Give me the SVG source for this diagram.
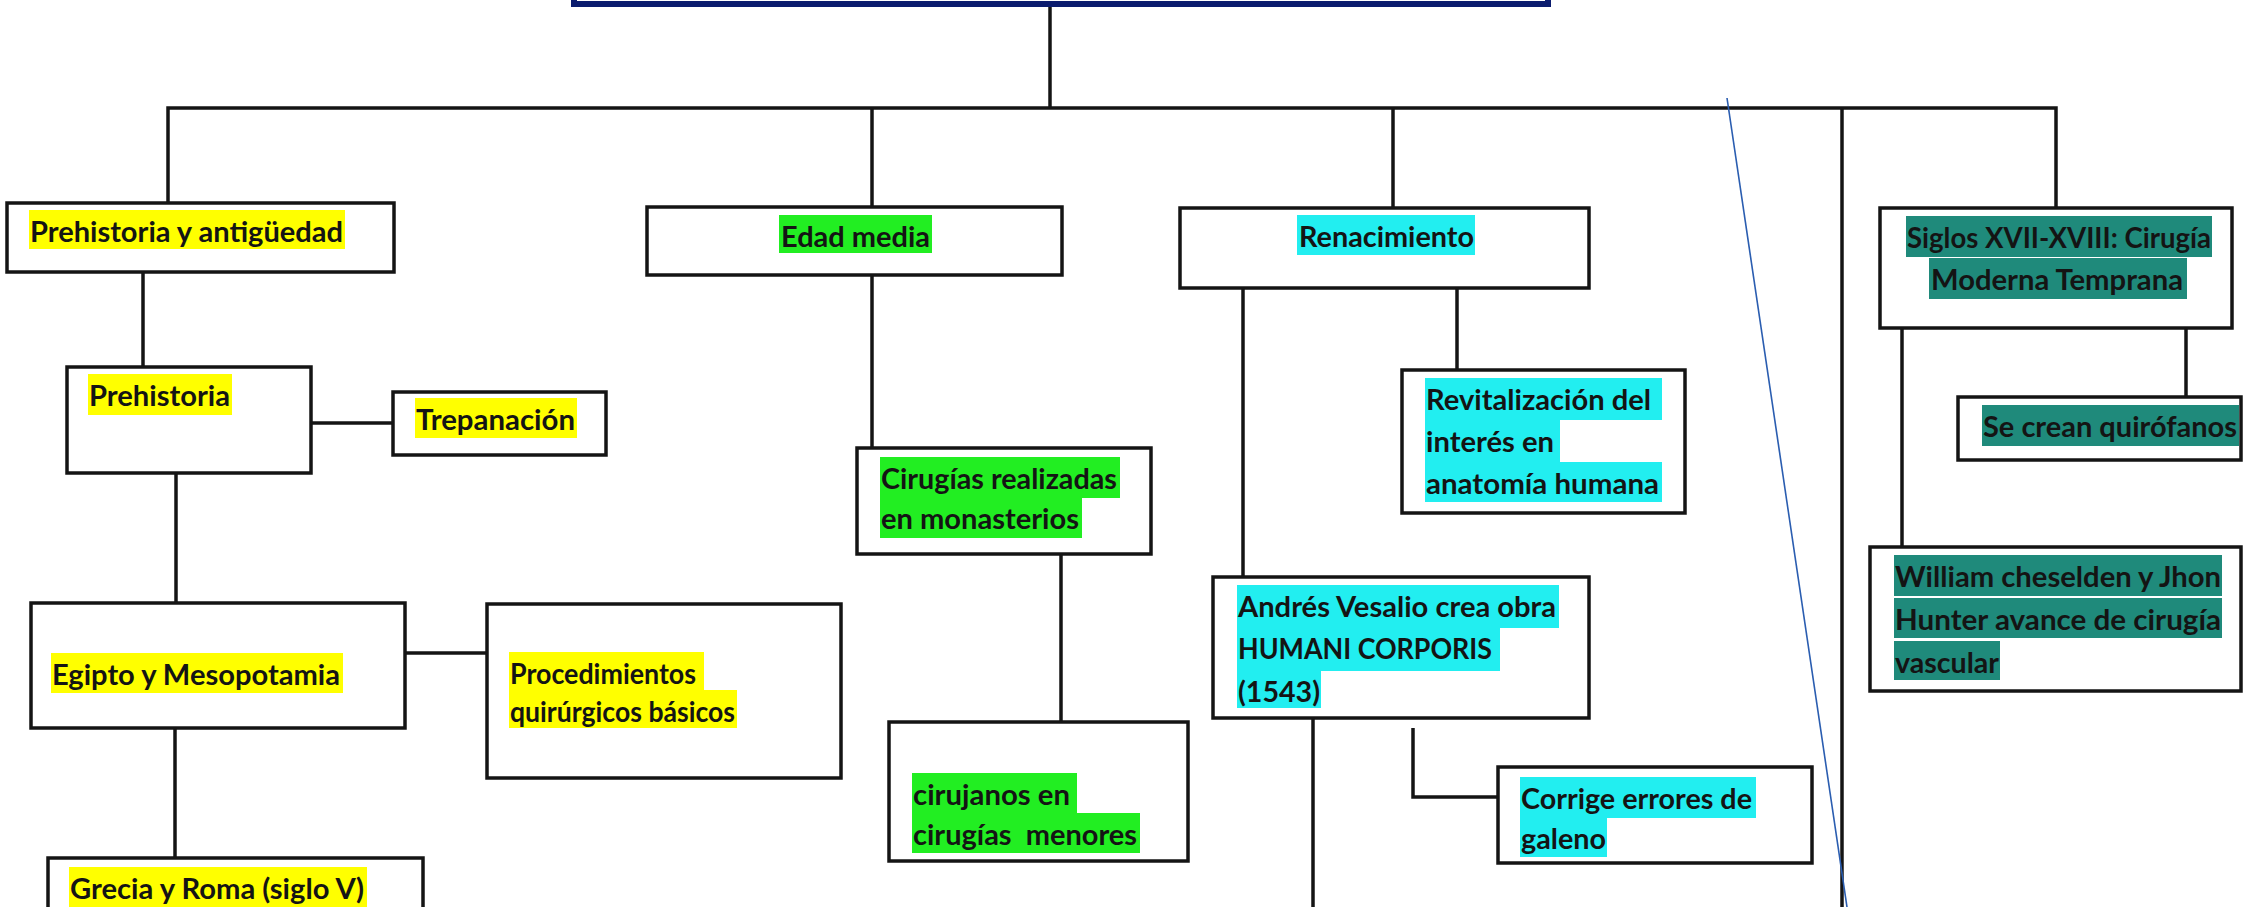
<svg xmlns="http://www.w3.org/2000/svg" width="2246" height="907" viewBox="0 0 2246 907">
<style>
.bg{fill:#ffffff}
.b{fill:#ffffff;stroke:#141414;stroke-width:3.5}
.top{fill:#ffffff;stroke:#0b1c6e;stroke-width:6}
.c{fill:none;stroke:#141414;stroke-width:3.5}
.blue{fill:none;stroke:#2a5db0;stroke-width:1.6}
.t{font-family:Lato,"Open Sans","Liberation Sans",sans-serif;font-weight:700;font-size:29px;fill:#141414}
.hy{fill:#ffff00}
.hg{fill:#22ee22}
.hc{fill:#22eef0}
.ht{fill:#1f8a7b}
</style>
<rect class="bg" x="0" y="0" width="2246" height="907"/>
<g id="connectors">
<polyline class="c" points="1050,6 1050,108"/>
<polyline class="c" points="168,203 168,108 2056,108 2056,208"/>
<polyline class="c" points="872,108 872,207"/>
<polyline class="c" points="1393,108 1393,208"/>
<polyline class="c" points="1842,108 1842,907"/>
<polyline class="c" points="143,272 143,367"/>
<polyline class="c" points="311,423 393,423"/>
<polyline class="c" points="176,473 176,603"/>
<polyline class="c" points="405,653 487,653"/>
<polyline class="c" points="175,728 175,858"/>
<polyline class="c" points="872,275 872,448"/>
<polyline class="c" points="1061,554 1061,722"/>
<polyline class="c" points="1243,288 1243,577"/>
<polyline class="c" points="1457,288 1457,370"/>
<polyline class="c" points="1313,718 1313,907"/>
<polyline class="c" points="1413,728 1413,797 1498,797"/>
<polyline class="c" points="1902,328 1902,547"/>
<polyline class="c" points="2186,328 2186,397"/>
<line class="blue" x1="1727" y1="98" x2="1847" y2="907"/>
</g>
<g id="title">
<rect class="top" x="574" y="-40" width="974" height="44"/>
</g>
<g id="n-prehistoria-antiguedad">
<rect class="b" x="7" y="203" width="387" height="69"/>
<rect class="hy" x="29" y="210" width="316" height="39"/>
<text class="t" x="30" y="242" textLength="313" lengthAdjust="spacingAndGlyphs">Prehistoria y antigüedad</text>
</g>
<g id="n-prehistoria">
<rect class="b" x="67" y="367" width="244" height="106"/>
<rect class="hy" x="88" y="374" width="144" height="41"/>
<text class="t" x="89" y="406" textLength="141" lengthAdjust="spacingAndGlyphs">Prehistoria</text>
</g>
<g id="n-trepanacion">
<rect class="b" x="393" y="392" width="213" height="63"/>
<rect class="hy" x="415" y="398" width="162" height="40"/>
<text class="t" x="416" y="430" textLength="159" lengthAdjust="spacingAndGlyphs">Trepanación</text>
</g>
<g id="n-egipto">
<rect class="b" x="31" y="603" width="374" height="125"/>
<rect class="hy" x="51" y="653" width="292" height="40"/>
<text class="t" x="52" y="685" textLength="288" lengthAdjust="spacingAndGlyphs">Egipto y Mesopotamia</text>
</g>
<g id="n-procedimientos">
<rect class="b" x="487" y="604" width="354" height="174"/>
<rect class="hy" x="509" y="652" width="195" height="39"/>
<rect class="hy" x="509" y="690" width="228" height="38"/>
<text class="t" x="510" y="684" textLength="186" lengthAdjust="spacingAndGlyphs">Procedimientos</text>
<text class="t" x="510" y="722" textLength="225" lengthAdjust="spacingAndGlyphs">quirúrgicos básicos</text>
</g>
<g id="n-grecia">
<rect class="b" x="48" y="858" width="375" height="80"/>
<rect class="hy" x="69" y="867" width="298" height="40"/>
<text class="t" x="70" y="899" textLength="294" lengthAdjust="spacingAndGlyphs">Grecia y Roma (siglo V)</text>
</g>
<g id="n-edad-media">
<rect class="b" x="647" y="207" width="415" height="68"/>
<rect class="hg" x="779" y="215" width="153" height="38"/>
<text class="t" x="781" y="247" textLength="149" lengthAdjust="spacingAndGlyphs">Edad media</text>
</g>
<g id="n-cirugias-monasterios">
<rect class="b" x="857" y="448" width="294" height="106"/>
<rect class="hg" x="880" y="457" width="240" height="41"/>
<rect class="hg" x="880" y="497" width="202" height="41"/>
<text class="t" x="881" y="489" textLength="236" lengthAdjust="spacingAndGlyphs">Cirugías realizadas</text>
<text class="t" x="881" y="529" textLength="198" lengthAdjust="spacingAndGlyphs">en monasterios</text>
</g>
<g id="n-cirujanos">
<rect class="b" x="889" y="722" width="299" height="139"/>
<rect class="hg" x="912" y="773" width="165" height="41"/>
<rect class="hg" x="912" y="813" width="228" height="40"/>
<text class="t" x="913" y="805" textLength="157" lengthAdjust="spacingAndGlyphs">cirujanos en</text>
<text class="t" x="913" y="845" textLength="224" lengthAdjust="spacingAndGlyphs" xml:space="preserve">cirugías  menores</text>
</g>
<g id="n-renacimiento">
<rect class="b" x="1180" y="208" width="409" height="80"/>
<rect class="hc" x="1297" y="215" width="178" height="40"/>
<text class="t" x="1299" y="247" textLength="175" lengthAdjust="spacingAndGlyphs">Renacimiento</text>
</g>
<g id="n-revitalizacion">
<rect class="b" x="1402" y="370" width="283" height="143"/>
<rect class="hc" x="1425" y="378" width="237" height="42"/>
<rect class="hc" x="1425" y="420" width="135" height="43"/>
<rect class="hc" x="1425" y="462" width="237" height="40"/>
<text class="t" x="1426" y="410" textLength="225" lengthAdjust="spacingAndGlyphs">Revitalización del</text>
<text class="t" x="1426" y="452" textLength="128" lengthAdjust="spacingAndGlyphs">interés en</text>
<text class="t" x="1426" y="494" textLength="233" lengthAdjust="spacingAndGlyphs">anatomía humana</text>
</g>
<g id="n-vesalio">
<rect class="b" x="1213" y="577" width="376" height="141"/>
<rect class="hc" x="1237" y="585" width="322" height="43"/>
<rect class="hc" x="1237" y="627" width="263" height="44"/>
<rect class="hc" x="1237" y="670" width="84" height="38"/>
<text class="t" x="1238" y="617" textLength="318" lengthAdjust="spacingAndGlyphs">Andrés Vesalio crea obra</text>
<text class="t" x="1238" y="659" textLength="254" lengthAdjust="spacingAndGlyphs">HUMANI CORPORIS</text>
<text class="t" x="1238" y="702" textLength="82" lengthAdjust="spacingAndGlyphs">(1543)</text>
</g>
<g id="n-corrige">
<rect class="b" x="1498" y="767" width="314" height="96"/>
<rect class="hc" x="1520" y="777" width="236" height="41"/>
<rect class="hc" x="1520" y="817" width="87" height="40"/>
<text class="t" x="1521" y="809" textLength="231" lengthAdjust="spacingAndGlyphs">Corrige errores de</text>
<text class="t" x="1521" y="849" textLength="85" lengthAdjust="spacingAndGlyphs">galeno</text>
</g>
<g id="n-siglos">
<rect class="b" x="1880" y="208" width="352" height="120"/>
<rect class="ht" x="1906" y="216" width="306" height="41"/>
<rect class="ht" x="1929" y="258" width="258" height="41"/>
<text class="t" x="1907" y="248" textLength="304" lengthAdjust="spacingAndGlyphs">Siglos XVII-XVIII: Cirugía</text>
<text class="t" x="1931" y="290" textLength="252" lengthAdjust="spacingAndGlyphs">Moderna Temprana</text>
</g>
<g id="n-quirofanos">
<rect class="b" x="1958" y="397" width="283" height="63"/>
<rect class="ht" x="1982" y="405" width="257" height="41"/>
<text class="t" x="1983" y="437" textLength="254" lengthAdjust="spacingAndGlyphs">Se crean quirófanos</text>
</g>
<g id="n-cheselden">
<rect class="b" x="1870" y="547" width="371" height="144"/>
<rect class="ht" x="1894" y="555" width="328" height="41"/>
<rect class="ht" x="1894" y="598" width="328" height="40"/>
<rect class="ht" x="1894" y="641" width="106" height="39"/>
<text class="t" x="1895" y="587" textLength="326" lengthAdjust="spacingAndGlyphs">William cheselden y Jhon</text>
<text class="t" x="1895" y="630" textLength="326" lengthAdjust="spacingAndGlyphs">Hunter avance de cirugía</text>
<text class="t" x="1895" y="673" textLength="104" lengthAdjust="spacingAndGlyphs">vascular</text>
</g>
</svg>
